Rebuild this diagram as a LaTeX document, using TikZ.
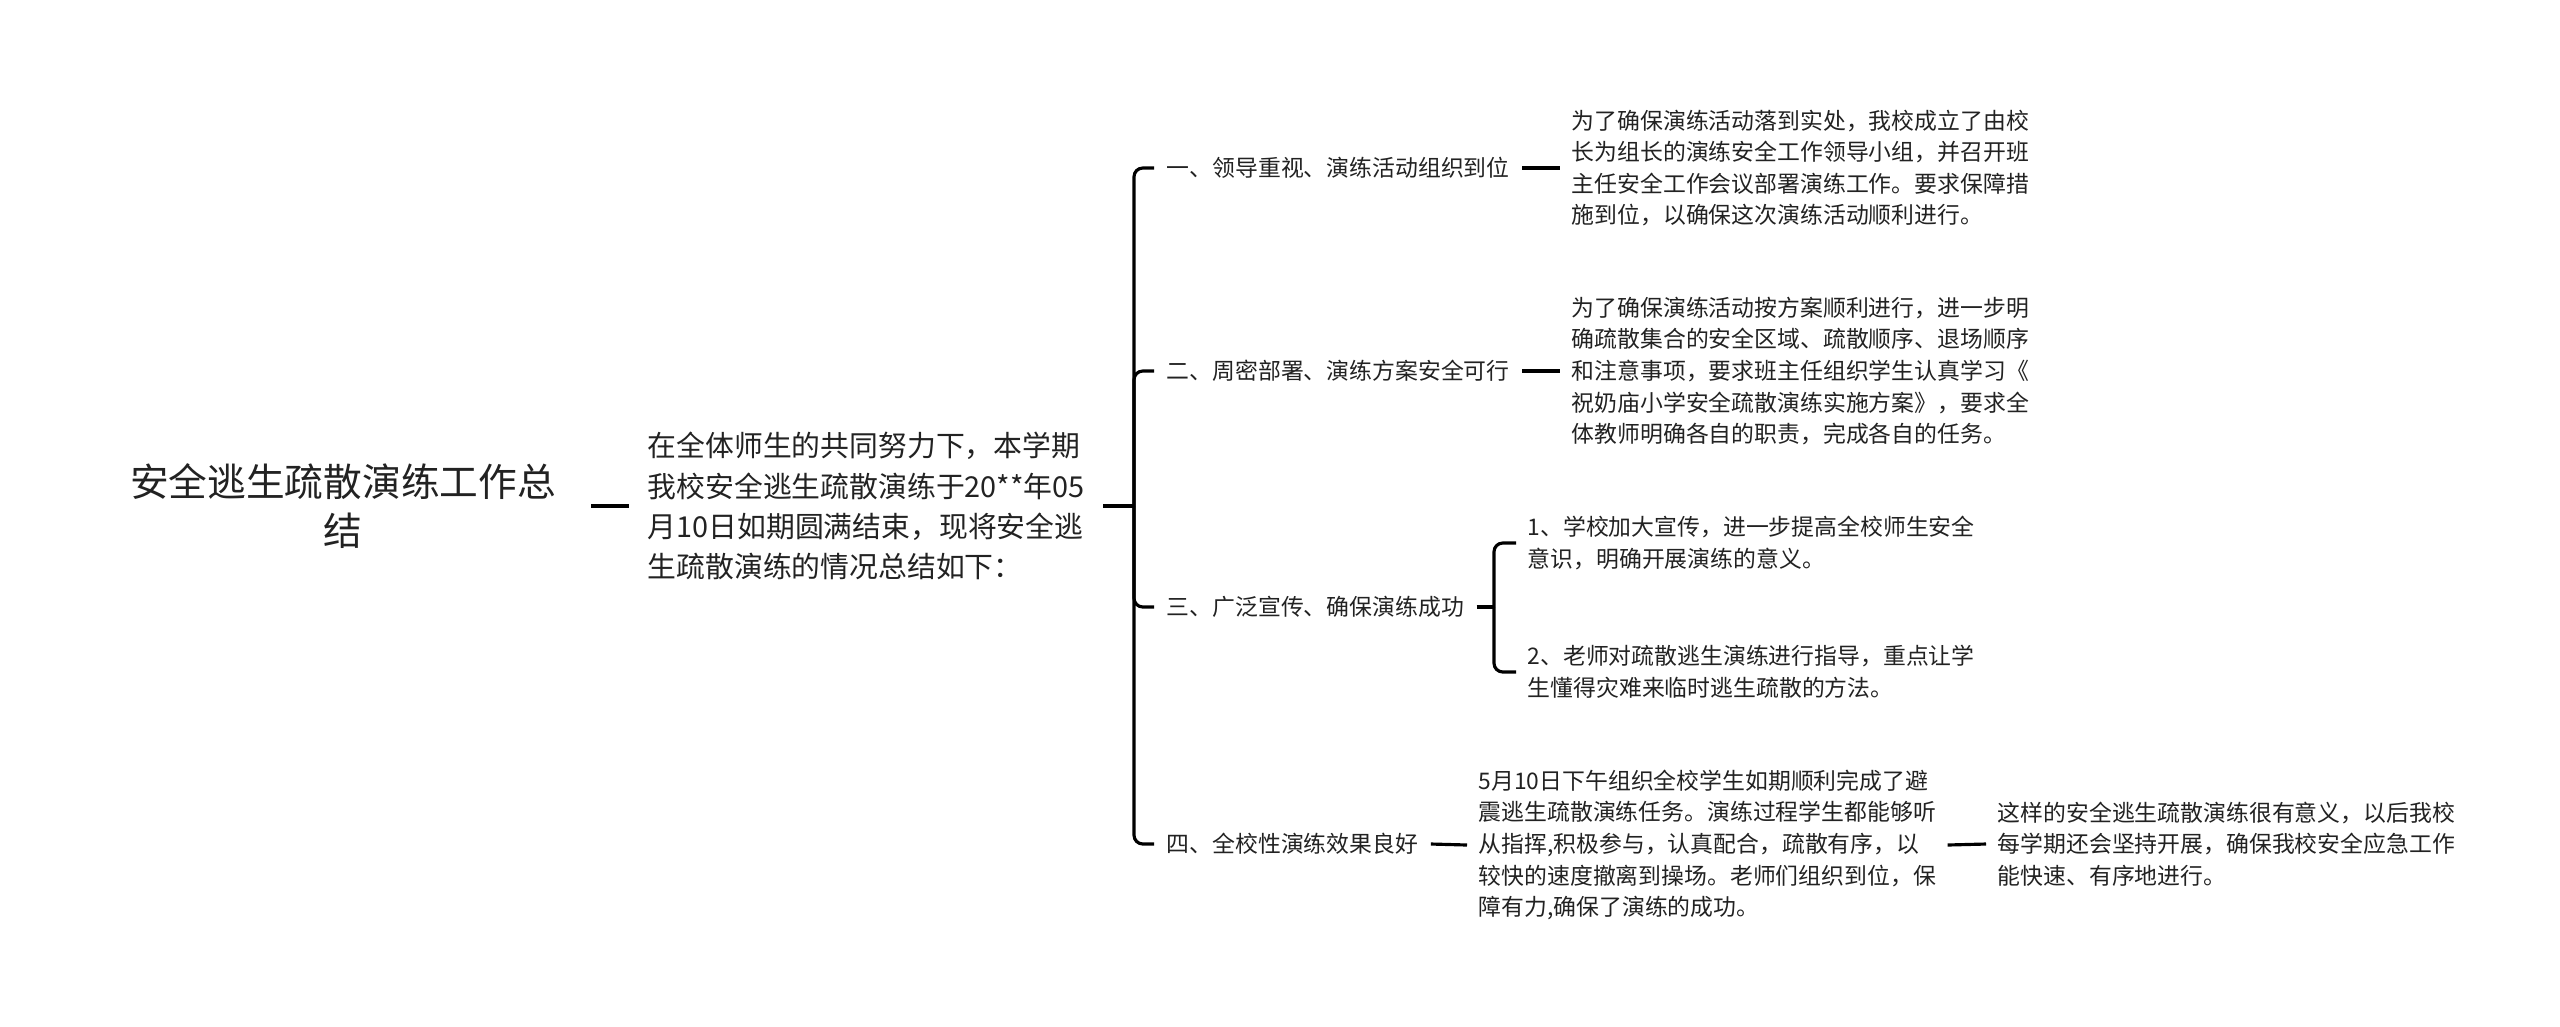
\documentclass[tikz,border=0pt]{standalone}
\usepackage{fontspec}
\setmainfont{Noto Sans CJK SC}
\usetikzlibrary{positioning}
\definecolor{inkgray}{RGB}{34,34,34}

\begin{document}
\begin{tikzpicture}[x=0.01cm,y=-0.01cm,
  link/.style={draw=black,line width=0.9pt},
  leaf/.style={anchor=west,align=left,inner xsep=0.11cm,text=inkgray,font=\fontsize{6.5}{9}\selectfont},
  branch/.style={leaf,inner xsep=0.12cm}]
\useasboundingbox (0,0) rectangle (2560,1026);

% root and introduction
\node[text=inkgray,align=center,inner xsep=0.35cm,font=\fontsize{11}{13.9}\selectfont] (root) at (343,506)
  {安全逃生疏散演练工作总\\结};
\node[anchor=west,align=left,inner xsep=0.18cm,text=inkgray,font=\fontsize{8.2}{11.4}\selectfont] (intro) at (629,506)
  {在全体师生的共同努力下，本学期\\我校安全逃生疏散演练于20**年05\\月10日如期圆满结束，现将安全逃\\生疏散演练的情况总结如下：};
\draw[link] (root.east) -- (intro.west);

% four branches
\coordinate (fork) at (1134,506);
\foreach \n/\y/\t in {b1/168/{一、领导重视、演练活动组织到位},
                      b2/371/{二、周密部署、演练方案安全可行},
                      b3/607/{三、广泛宣传、确保演练成功},
                      b4/844/{四、全校性演练效果良好}} {
    \node[branch] (\n) at (1154,\y) {\t};
    \draw[link,rounded corners=2.5pt] (fork) |- (\n.west);
}
\draw[link] (intro.east) -- (fork);

% leaves
\node[leaf] (l1) at (1560,168)
  {为了确保演练活动落到实处，我校成立了由校\\长为组长的演练安全工作领导小组，并召开班\\主任安全工作会议部署演练工作。要求保障措\\施到位，以确保这次演练活动顺利进行。};
\node[leaf] (l2) at (1560,371)
  {为了确保演练活动按方案顺利进行，进一步明\\确疏散集合的安全区域、疏散顺序、退场顺序\\和注意事项，要求班主任组织学生认真学习《\\祝奶庙小学安全疏散演练实施方案》，要求全\\体教师明确各自的职责，完成各自的任务。};
\draw[link] (b1.east) -- (l1.west);
\draw[link] (b2.east) -- (l2.west);

\coordinate (fork3) at (1494,607);
\node[leaf] (s1) at (1516,543)
  {1、学校加大宣传，进一步提高全校师生安全\\意识，明确开展演练的意义。};
\node[leaf] (s2) at (1516,672)
  {2、老师对疏散逃生演练进行指导，重点让学\\生懂得灾难来临时逃生疏散的方法。};
\draw[link] (b3.east) -- (fork3);
\foreach \n in {s1,s2}
    \draw[link,rounded corners=2.5pt] (fork3) |- (\n.west);

\node[leaf] (l4) at (1467,845)
  {5月10日下午组织全校学生如期顺利完成了避\\震逃生疏散演练任务。演练过程学生都能够听\\从指挥,积极参与，认真配合，疏散有序，以\\较快的速度撤离到操场。老师们组织到位，保\\障有力,确保了演练的成功。};
\node[leaf] (l5) at (1986,844)
  {这样的安全逃生疏散演练很有意义，以后我校\\每学期还会坚持开展，确保我校安全应急工作\\能快速、有序地进行。};
\draw[link] (b4.east) -- (l4.west);
\draw[link] (l4.east) -- (l5.west);
\end{tikzpicture}
\end{document}
